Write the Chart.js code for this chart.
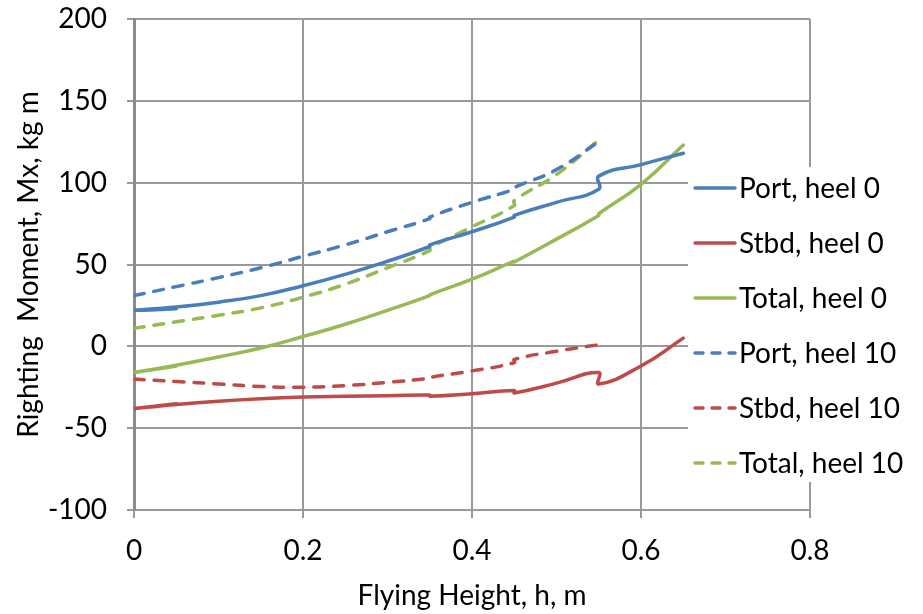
<!DOCTYPE html>
<html>
<head>
<meta charset="utf-8">
<script src="https://cdn.jsdelivr.net/npm/chart.js@4/dist/chart.umd.min.js"></script>
<style>
html,body{margin:0;padding:0;background:#fff;}
#wrap{width:923px;height:614px;}
</style>
</head>
<body>
<div id="wrap"><canvas id="c" width="923" height="614"></canvas></div>
<script>
// ---- data ----
const xTitle = 'Flying Height, h, m';
const yTitle = 'Righting  Moment, Mx, kg m';
const xTicks = [0, 0.2, 0.4, 0.6, 0.8];
const yTicks = [-100, -50, 0, 50, 100, 150, 200];

const hHeel0 = [0, 0.05, 0, 0.05, 0.1, 0.15, 0.2, 0.25, 0.3, 0.35, 0.35, 0.4, 0.45, 0.45, 0.5, 0.55, 0.55, 0.6, 0.65];
const port0  = [22, 23, 22, 24, 27, 31, 37, 44, 52, 61, 62, 70, 79, 80, 88, 96, 104, 111, 118];
const stbd0  = [-38, -35, -38, -35.5, -33.5, -32, -31, -30.5, -30.2, -29.8, -30.5, -29, -27, -28.5, -22.5, -16, -23, -12, 5];
const total0 = [-16, -12, -16, -11.5, -6.5, -1, 6, 13.5, 22, 31, 31.5, 41, 52, 51.5, 65.5, 80, 81, 99, 123];

const hHeel10 = [0, 0.05, 0.1, 0.15, 0.2, 0.25, 0.3, 0.35, 0.35, 0.4, 0.45, 0.45, 0.5, 0.55];
const port10  = [31, 36.5, 42, 48, 55, 62, 70, 78, 79, 88, 96, 97, 108, 125];
const stbd10  = [-20, -21.5, -23, -24.5, -25, -24, -22, -19.5, -19, -15, -10, -8, -3, 1];
const total10 = [11, 15, 19, 23.5, 30, 38, 48, 58.5, 60, 73, 86, 89, 105, 126];

const seriesNames = ['Port, heel 0', 'Stbd, heel 0', 'Total, heel 0', 'Port, heel 10', 'Stbd, heel 10', 'Total, heel 10'];

// ---- styling ----
const BLUE = '#4A7EBB', RED = '#BE4B48', GREEN = '#98B954';
const FONT = 'Lato';

function pts(xs, ys) { return xs.map((x, i) => ({x: x, y: ys[i]})); }
function ds(label, xs, ys, color, dashed) {
  return {
    label: label,
    data: pts(xs, ys),
    showLine: true,
    borderColor: color,
    backgroundColor: color,
    borderWidth: 3.5,
    borderDash: dashed ? [10, 10] : [],
    borderCapStyle: 'round',
    borderJoinStyle: 'round',
    pointRadius: 0,
    pointHoverRadius: 0,
    tension: 0.5,
    fill: false
  };
}

const datasets = [
  ds(seriesNames[0], hHeel0, port0, BLUE, false),
  ds(seriesNames[1], hHeel0, stbd0, RED, false),
  ds(seriesNames[2], hHeel0, total0, GREEN, false),
  ds(seriesNames[3], hHeel10, port10, BLUE, true),
  ds(seriesNames[4], hHeel10, stbd10, RED, true),
  ds(seriesNames[5], hHeel10, total10, GREEN, true)
];

const overlay = {
  id: 'overlay',
  afterDraw(chart) {
    const ctx = chart.ctx;
    const a = chart.chartArea;
    ctx.save();
    ctx.fillStyle = '#000';
    ctx.textBaseline = 'middle';
    // x axis title, centred on the plot area
    ctx.font = '28px ' + FONT;
    ctx.textAlign = 'center';
    ctx.fillText(xTitle, (a.left + a.right) / 2, 596);
    // y axis title, centred on the plot area
    ctx.save();
    ctx.translate(29, (a.top + a.bottom) / 2);
    ctx.rotate(-Math.PI / 2);
    ctx.fillText(yTitle, 0, 0);
    ctx.restore();
    // legend (white box over the plot)
    ctx.fillStyle = '#fff';
    ctx.fillRect(688, 167, 235, 315);
    ctx.font = '28px ' + FONT;
    ctx.textAlign = 'left';
    const rowTop = 188, rowGap = 55;
    chart.data.datasets.forEach((d, i) => {
      const y = rowTop + i * rowGap;
      ctx.save();
      ctx.strokeStyle = d.borderColor;
      ctx.lineWidth = 3.5;
      ctx.lineCap = 'round';
      ctx.setLineDash(d.borderDash && d.borderDash.length ? [8, 9] : []);
      ctx.beginPath();
      ctx.moveTo(695, y);
      ctx.lineTo(735, y);
      ctx.stroke();
      ctx.restore();
      ctx.fillStyle = '#000';
      ctx.fillText(d.label, 739, y + 1);
    });
    ctx.restore();
  }
};

new Chart(document.getElementById('c'), {
  type: 'scatter',
  data: { datasets: datasets },
  options: {
    responsive: false,
    devicePixelRatio: 1,
    animation: false,
    layout: { padding: { left: 0, top: 19, right: 113, bottom: 0 } },
    plugins: { legend: { display: false }, tooltip: { enabled: false }, title: { display: false } },
    scales: {
      x: {
        type: 'linear',
        min: xTicks[0], max: xTicks[xTicks.length - 1],
        afterFit(s) { s.height = 104; s.paddingLeft = 0; s.paddingRight = 0; },
        afterBuildTicks(s) { s.ticks = xTicks.map(v => ({value: v})); },
        ticks: {
          color: '#000', font: { family: FONT, size: 28 }, padding: 16,
          maxRotation: 0, autoSkip: false,
          callback: v => String(v)
        },
        grid: { color: '#9a9a9a', lineWidth: 2, tickLength: 8, drawTicks: true },
        border: { display: true, color: '#9a9a9a', width: 2 }
      },
      y: {
        type: 'linear',
        min: yTicks[0], max: yTicks[yTicks.length - 1],
        afterFit(s) { s.width = 134; s.paddingTop = 0; s.paddingBottom = 0; },
        afterBuildTicks(s) { s.ticks = yTicks.map(v => ({value: v})); },
        ticks: {
          color: '#000', font: { family: FONT, size: 28 }, padding: 20,
          autoSkip: false,
          callback: v => String(v)
        },
        grid: { color: '#9a9a9a', lineWidth: 2, tickLength: 7, drawTicks: true },
        border: { display: true, color: '#8c8c8c', width: 3 }
      }
    }
  },
  plugins: [overlay]
});
</script>
</body>
</html>
